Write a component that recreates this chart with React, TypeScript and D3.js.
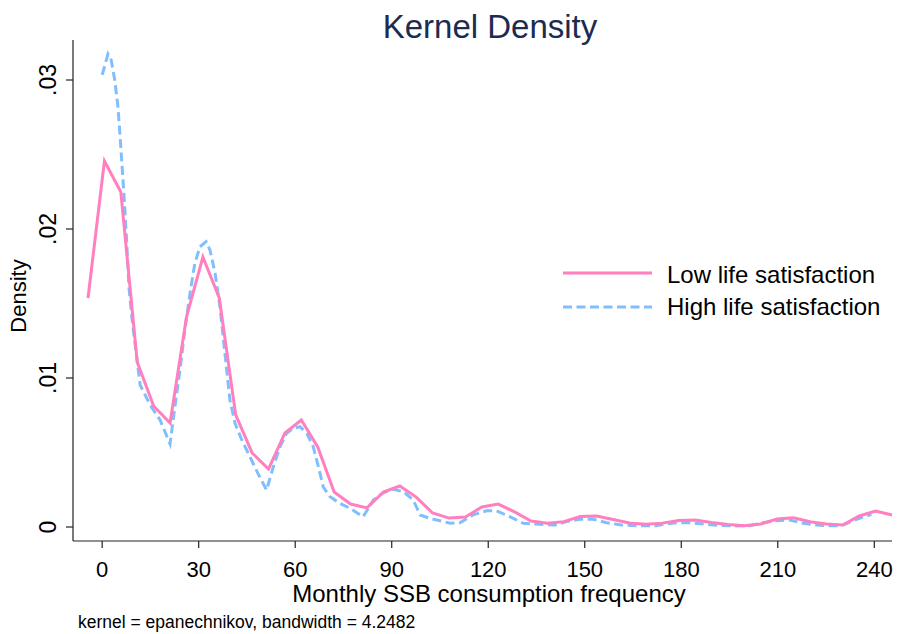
import React from 'react'
import { scaleLinear, line, curveLinear } from 'd3'

const width = 904
const height = 634
const font = '"Liberation Sans", Arial, Helvetica, sans-serif'

// evaluation points + densities
const lowX = [-4.4, 0.7, 5.8, 10.9, 16.0, 21.1, 26.2, 31.3, 36.4, 41.5, 46.6, 51.7, 56.8, 61.9, 67.0, 72.1, 77.2,
  82.3, 87.4, 92.5, 97.6, 102.7, 107.8, 112.9, 118.0, 123.1, 128.2, 133.3, 138.4, 143.5, 148.6, 153.7, 158.8,
  163.9, 169.0, 174.1, 179.2, 184.3, 189.4, 194.5, 199.6, 204.7, 209.8, 214.9, 220.0, 225.1, 230.2, 235.3, 240.4, 245.5]
const lowY = [0.01537, 0.02456, 0.02248, 0.01107, 0.00812, 0.00698, 0.01409, 0.01812, 0.01537, 0.00752, 0.00497,
  0.00389, 0.00631, 0.00718, 0.00537, 0.00235, 0.00154, 0.00128, 0.00235, 0.00275, 0.00201, 0.00094, 0.0006,
  0.00067, 0.00134, 0.00154, 0.00101, 0.0004, 0.00025, 0.00036, 0.0007, 0.00074, 0.0005, 0.00027, 0.00018,
  0.00026, 0.00044, 0.00047, 0.0003, 0.00017, 0.00009, 0.0002, 0.00054, 0.00062, 0.00035, 0.0002, 0.00013,
  0.00074, 0.00107, 0.00081]

const highX = [0, 1.8, 2.8, 3.9, 4.9, 5.5, 6.2, 7.0, 7.7, 8.3, 9.2, 10.2, 11.8, 14.9, 18.0, 21.1, 22.6, 24.2, 25.7,
  27.3, 28.8, 30.4, 32.3, 33.5, 35.1, 36.6, 37.6, 38.7, 39.7, 41.3, 43.4, 45.4, 48.4, 51.1, 53.2, 55.3, 57.3, 59.4,
  61.5, 63.6, 65.6, 67.2, 68.7, 70.8, 73.9, 77.0, 81.1, 84.3, 87.4, 90.5, 93.6, 96.7, 98.8, 101.9, 105.0, 108.1,
  111.2, 115.3, 119.5, 122.6, 126.7, 130.9, 136.1, 140.7, 144.3, 148.5, 152.6, 156.8, 161.4, 166.1, 172.3, 174.4,
  178.5, 182.7, 186.8, 191.0, 196.1, 201.3, 205.4, 209.6, 213.7, 217.9, 222.0, 226.2, 229.8, 234.5, 239.1]
const highY = [0.03034, 0.03174, 0.03134, 0.03, 0.02821, 0.02642, 0.02418, 0.0215, 0.01881, 0.01613, 0.01411,
  0.01233, 0.00953, 0.00819, 0.00718, 0.00557, 0.00807, 0.01054, 0.01322, 0.01568, 0.0177, 0.01881, 0.01915,
  0.01859, 0.01703, 0.01479, 0.01277, 0.01054, 0.00852, 0.00696, 0.00584, 0.00495, 0.0036, 0.00248, 0.00405,
  0.00539, 0.00629, 0.00662, 0.00673, 0.00629, 0.00539, 0.00405, 0.0027, 0.00203, 0.00159, 0.00126, 0.00069,
  0.00181, 0.0023, 0.00253, 0.00237, 0.00181, 0.00081, 0.00058, 0.00042, 0.00025, 0.00029, 0.00081, 0.00109,
  0.00109, 0.00069, 0.00025, 0.00018, 0.00013, 0.00036, 0.00052, 0.00052, 0.00029, 0.00013, 0.00009, 0.00009,
  0.00018, 0.00029, 0.00029, 0.0002, 0.00011, 0.00007, 0.00009, 0.00029, 0.00042, 0.00047, 0.00025, 0.00013,
  0.00009, 0.00009, 0.00052, 0.00085]

const xTicks = [0, 30, 60, 90, 120, 150, 180, 210, 240]
const yTicks = [0, 0.01, 0.02, 0.03]
const yTickLabels = ['0', '.01', '.02', '.03']
const seriesNames = ['Low life satisfaction', 'High life satisfaction']

const pinkColor = '#ff7fbf'
const blueColor = '#80bfff'

const left = 73
const right = 892
const top = 40
const bottom = 541

const x = scaleLinear().domain([-9.07, 245.5]).range([left, right])
const y = scaleLinear().domain([0, 0.03]).range([527, 80])

const pathGen = line<[number, number]>()
  .x(d => x(d[0]))
  .y(d => y(d[1]))
  .curve(curveLinear)

export default function App() {
  const lowPts = lowX.map((v, i) => [v, lowY[i]] as [number, number])
  const highPts = highX.map((v, i) => [v, highY[i]] as [number, number])

  return (
    <svg width={width} height={height} style={{ position: 'absolute', left: 0, top: 0, background: '#fff' }}
      fontFamily={font}>
      <rect width={width} height={height} fill="#fff" />
      <text x={490} y={38} textAnchor="middle" fontSize={33} fill="#1b2b52">Kernel Density</text>

      {/* axes */}
      <line x1={left} x2={left} y1={top} y2={bottom} stroke="#222" strokeWidth={1.2} />
      <line x1={left} x2={right} y1={bottom} y2={bottom} stroke="#222" strokeWidth={1.2} />

      {yTicks.map((t, i) => (
        <g key={'y' + t}>
          <line x1={66} x2={left} y1={y(t)} y2={y(t)} stroke="#222" strokeWidth={1.2} />
          <text transform={`translate(56,${y(t)}) rotate(-90)`} textAnchor="middle" fontSize={23} fill="#000">
            {yTickLabels[i]}
          </text>
        </g>
      ))}
      {xTicks.map(t => (
        <g key={'x' + t}>
          <line x1={x(t)} x2={x(t)} y1={bottom} y2={548} stroke="#222" strokeWidth={1.2} />
          <text x={x(t)} y={577} textAnchor="middle" fontSize={22} fill="#000">{t}</text>
        </g>
      ))}

      <text transform="translate(26,296) rotate(-90)" textAnchor="middle" fontSize={22} fill="#000">Density</text>
      <text x={489} y={602} textAnchor="middle" fontSize={24} fill="#000">Monthly SSB consumption frequency</text>
      <text x={78} y={628} fontSize={17.5} fill="#000">kernel = epanechnikov, bandwidth = 4.2482</text>

      {/* density curves */}
      <path d={pathGen(highPts) || ''} fill="none" stroke={blueColor} strokeWidth={3} strokeDasharray="9,4.5" />
      <path d={pathGen(lowPts) || ''} fill="none" stroke={pinkColor} strokeWidth={3} strokeLinejoin="miter" />

      {/* legend */}
      <line x1={563} x2={652} y1={273} y2={273} stroke={pinkColor} strokeWidth={3} />
      <text x={667} y={283} fontSize={24} fill="#000">{seriesNames[0]}</text>
      <line x1={563} x2={652} y1={307} y2={307} stroke={blueColor} strokeWidth={3} strokeDasharray="9,4.5" />
      <text x={667} y={315} fontSize={24} fill="#000">{seriesNames[1]}</text>
    </svg>
  )
}
